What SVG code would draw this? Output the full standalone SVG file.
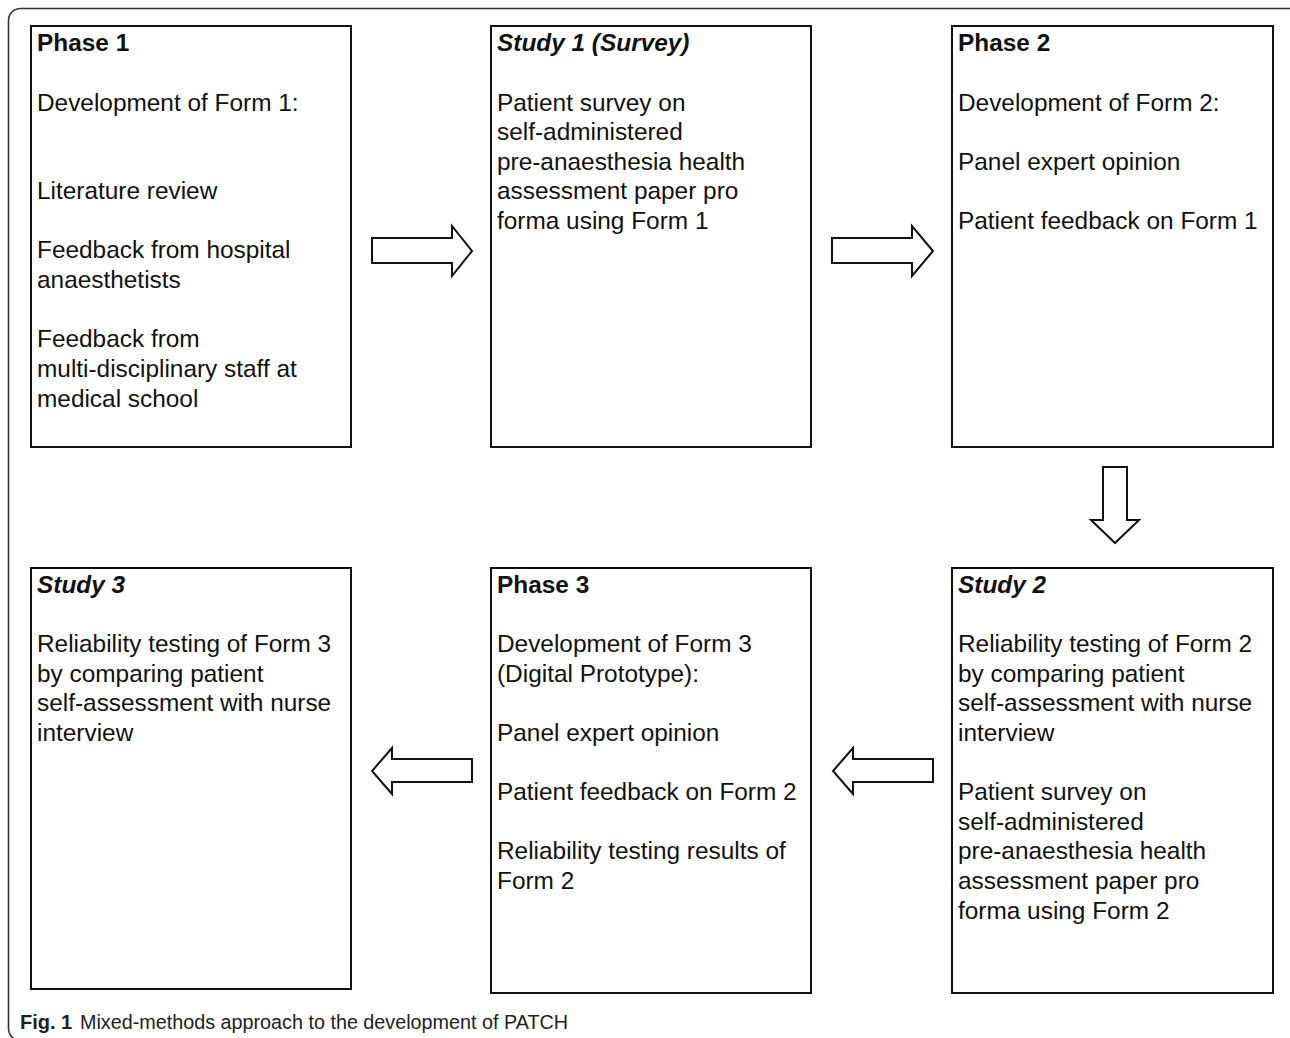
<svg xmlns="http://www.w3.org/2000/svg" width="1290" height="1038" viewBox="0 0 1290 1038">
<style>
.frame{fill:none;stroke:#333;stroke-width:1.6}
.box{fill:#fff;stroke:#111;stroke-width:2}
.arr{fill:#fff;stroke:#111;stroke-width:2;stroke-linejoin:miter}
text{font-family:"Liberation Sans",Arial,sans-serif;font-size:24.4px;fill:#111}
.t{font-weight:bold}
.ti{font-weight:bold;font-style:italic}
.cap{font-size:20px;fill:#222}
</style>
<rect width="1290" height="1038" fill="#fff"/>
<rect class="frame" x="8.5" y="8.5" width="1300" height="1032" rx="12"/>

<g id="phase1">
<rect class="box" x="31" y="26" width="320" height="421"/>
<text x="37" y="51" class="t">Phase 1</text>
<text x="37" y="111">Development of Form 1:</text>
<text x="37" y="199">Literature review</text>
<text x="37" y="258">Feedback from hospital</text>
<text x="37" y="288">anaesthetists</text>
<text x="37" y="347">Feedback from</text>
<text x="37" y="377">multi-disciplinary staff at</text>
<text x="37" y="407">medical school</text>
</g>

<g id="study1">
<rect class="box" x="491" y="26" width="320" height="421"/>
<text x="497" y="51" class="ti">Study 1 (Survey)</text>
<text x="497" y="111">Patient survey on</text>
<text x="497" y="140">self-administered</text>
<text x="497" y="170">pre-anaesthesia health</text>
<text x="497" y="199">assessment paper pro</text>
<text x="497" y="229">forma using Form 1</text>
</g>

<g id="phase2">
<rect class="box" x="952" y="26" width="321" height="421"/>
<text x="958" y="51" class="t">Phase 2</text>
<text x="958" y="111">Development of Form 2:</text>
<text x="958" y="170">Panel expert opinion</text>
<text x="958" y="229">Patient feedback on Form 1</text>
</g>

<g id="study3">
<rect class="box" x="31" y="568" width="320" height="421"/>
<text x="37" y="593" class="ti">Study 3</text>
<text x="37" y="652">Reliability testing of Form 3</text>
<text x="37" y="682">by comparing patient</text>
<text x="37" y="711">self-assessment with nurse</text>
<text x="37" y="741">interview</text>
</g>

<g id="phase3">
<rect class="box" x="491" y="568" width="320" height="425"/>
<text x="497" y="593" class="t">Phase 3</text>
<text x="497" y="652">Development of Form 3</text>
<text x="497" y="682">(Digital Prototype):</text>
<text x="497" y="741">Panel expert opinion</text>
<text x="497" y="800">Patient feedback on Form 2</text>
<text x="497" y="859">Reliability testing results of</text>
<text x="497" y="889">Form 2</text>
</g>

<g id="study2">
<rect class="box" x="952" y="568" width="321" height="425"/>
<text x="958" y="593" class="ti">Study 2</text>
<text x="958" y="652">Reliability testing of Form 2</text>
<text x="958" y="682">by comparing patient</text>
<text x="958" y="711">self-assessment with nurse</text>
<text x="958" y="741">interview</text>
<text x="958" y="800">Patient survey on</text>
<text x="958" y="830">self-administered</text>
<text x="958" y="859">pre-anaesthesia health</text>
<text x="958" y="889">assessment paper pro</text>
<text x="958" y="919">forma using Form 2</text>
</g>

<g id="connectors">
<polygon class="arr" points="372,238 452,238 452,226 472,251 452,276 452,263 372,263"/>
<polygon class="arr" points="832,238 912,238 912,226 933,251 912,276 912,263 832,263"/>
<polygon class="arr" points="1103,467 1127,467 1127,520 1139,520 1115,543 1091,520 1103,520"/>
<polygon class="arr" points="933,759 853,759 853,748 833,771 853,794 853,782 933,782"/>
<polygon class="arr" points="472,759 392,759 392,748 372,771 392,794 392,782 472,782"/>
</g>

<g id="caption">
<text x="20" y="1029" class="cap"><tspan font-weight="bold">Fig. 1</tspan><tspan x="80" textLength="488" lengthAdjust="spacingAndGlyphs">Mixed-methods approach to the development of PATCH</tspan></text>
</g>
</svg>
